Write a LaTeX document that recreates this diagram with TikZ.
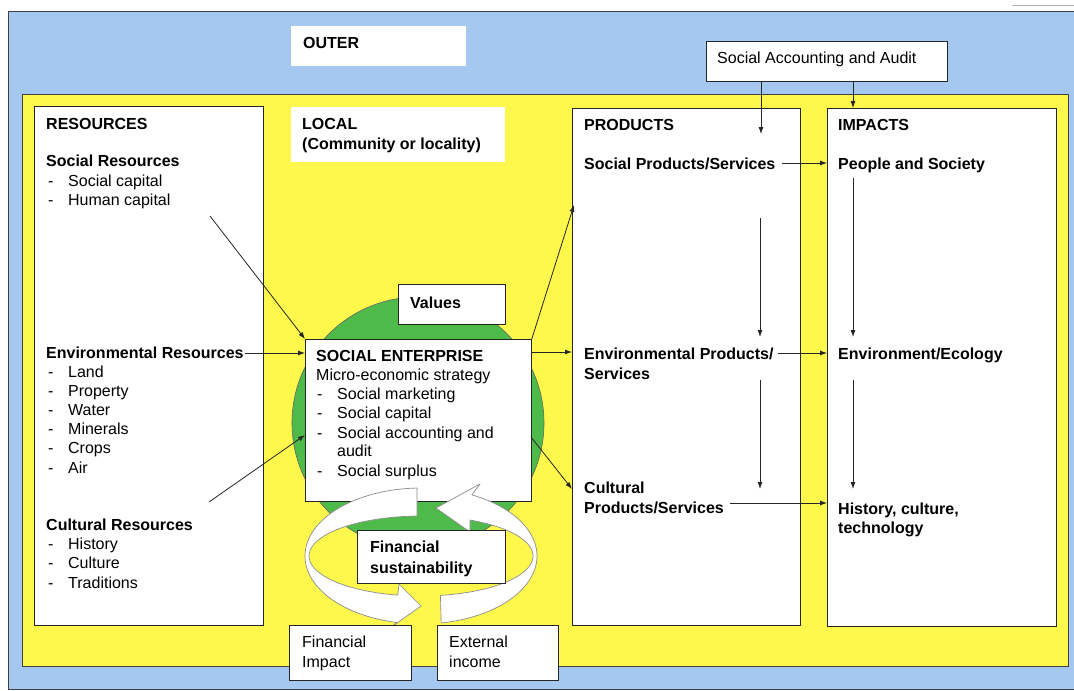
\documentclass[tikz,border=0pt]{standalone}
\usepackage{fontspec}
\setmainfont{Liberation Sans}
\usetikzlibrary{arrows.meta}
\definecolor{bgblue}{RGB}{164,200,240}
\definecolor{bgyellow}{RGB}{255,248,76}
\definecolor{segreen}{RGB}{78,186,74}
\begin{document}
\begin{tikzpicture}[x=1pt,y=-1pt,
  every node/.style={font=\fontsize{16}{19}\selectfont, inner sep=0pt},
  txt/.style={anchor=base west},
  btxt/.style={anchor=base west, font=\fontsize{16}{19}\selectfont\bfseries},
  panel/.style={draw=black!85, fill=white, line width=0.8pt, anchor=north west},
  plainpanel/.style={fill=white, anchor=north west},
  conn/.style={draw=black!85, line width=0.8pt, -{Latex[length=7pt,width=5pt]}},
  ribbon/.style={fill=white, draw=black!45, line width=0.7pt, line join=round}]
\useasboundingbox (0,0) rectangle (1074,691);
% backgrounds
\fill[white] (0,0) rectangle (1074,691);
\draw[black!30, line width=0.8pt] (1012,5) -- (1074,5);
\draw[fill=bgblue, draw=black!75, line width=0.8pt] (8,11) rectangle (1080,689);
\draw[fill=bgyellow, draw=black!75, line width=0.8pt] (22,94) rectangle (1068,666);
% panels
\node[plainpanel, minimum width=175pt, minimum height=40pt] (outerlbl) at (291,26) {};
\node[panel, minimum width=241pt, minimum height=40pt] (saa) at (706,41) {};
\node[panel, minimum width=229pt, minimum height=519pt] (res) at (34,106) {};
\node[plainpanel, minimum width=214pt, minimum height=55pt] (local) at (291,107) {};
\node[panel, minimum width=228pt, minimum height=517pt] (prod) at (572,108) {};
\node[panel, minimum width=229pt, minimum height=518pt] (imp) at (827,108) {};
% green circle
\node[circle, fill=segreen, draw=black!60, line width=0.6pt, minimum size=252pt] (circ) at (418,423) {};
\node[panel, minimum width=107pt, minimum height=40pt] (values) at (398,284) {};
\node[panel, minimum width=226pt, minimum height=162pt] (se) at (305,339) {};
% ribbon arrows
\draw[ribbon] plot[domain=92:258, samples=50] ({421+116*cos(\x)},{556-68*sin(\x)})
   -- (390,628) -- (421,606) -- (399,584)
   -- plot[domain=258:92, samples=50] ({421+112*cos(\x)},{556-40*sin(\x)}) -- cycle;
\draw[ribbon] plot[domain=-80:64, samples=50] ({421+116*cos(\x)},{556-68*sin(\x)})
   -- (480,484) -- (436,508) -- (470,532)
   -- plot[domain=64:-80, samples=50] ({421+112*cos(\x)},{556-40*sin(\x)}) -- cycle;
\node[panel, minimum width=148pt, minimum height=53pt] (finsus) at (357,530) {};
\node[panel, minimum width=122pt, minimum height=55pt] (finimp) at (289,625) {};
\node[panel, minimum width=121pt, minimum height=55pt] (extinc) at (437,625) {};
% texts
\node[btxt] (touter) at (303,48) {OUTER};
\node[btxt] (tlocal1) at (302,129) {LOCAL};
\node[btxt] (tlocal2) at (302,149) {(Community or locality)};
\node[txt] (tsaa) at (717,63) {Social Accounting and Audit};
\newcommand\itm[1]{\makebox[20pt][l]{-}#1}
\node[btxt] (tres) at (46,129) {RESOURCES};
\node[btxt] (socres) at (46,166) {Social Resources};
\node[txt] (r1) at (48,186) {\itm{Social capital}};
\node[txt] (r2) at (48,205) {\itm{Human capital}};
\node[btxt] (envres) at (46,358) {Environmental Resources};
\node[txt] (r3) at (48,377) {\itm{Land}};
\node[txt] (r4) at (48,396) {\itm{Property}};
\node[txt] (r5) at (48,415) {\itm{Water}};
\node[txt] (r6) at (48,434) {\itm{Minerals}};
\node[txt] (r7) at (48,453) {\itm{Crops}};
\node[txt] (r8) at (48,473) {\itm{Air}};
\node[btxt] (culres) at (46,530) {Cultural Resources};
\node[txt] (r9) at (48,549) {\itm{History}};
\node[txt] (r10) at (48,568) {\itm{Culture}};
\node[txt] (r11) at (48,588) {\itm{Traditions}};
\node[btxt] (tvalues) at (410,308) {Values};
\node[btxt] (tse) at (316,361) {SOCIAL ENTERPRISE};
\node[txt] (tmicro) at (316,380) {Micro-economic strategy};
\node[txt] (s1) at (317,399) {\itm{Social marketing}};
\node[txt] (s2) at (317,418) {\itm{Social capital}};
\node[txt] (s3) at (317,438) {\itm{Social accounting and}};
\node[txt] (s3b) at (337,456) {audit};
\node[txt] (s4) at (317,476) {\itm{Social surplus}};
\node[btxt] (tfs1) at (370,552) {Financial};
\node[btxt] (tfs2) at (370,573) {sustainability};
\node[txt] (tfi1) at (302,647) {Financial};
\node[txt] (tfi2) at (302,667) {Impact};
\node[txt] (tei1) at (449,647) {External};
\node[txt] (tei2) at (449,667) {income};
\node[btxt] (tprod) at (584,130) {PRODUCTS};
\node[btxt] (sps) at (584,169) {Social Products/Services};
\node[btxt] (eps) at (584,359) {Environmental Products/};
\node[btxt] (eps2) at (584,379) {Services};
\node[btxt] (cps) at (584,493) {Cultural};
\node[btxt] (cps2) at (584,513) {Products/Services};
\node[btxt] (timp) at (838,130) {IMPACTS};
\node[btxt] (peop) at (838,169) {People and Society};
\node[btxt] (envi) at (838,359) {Environment/Ecology};
\node[btxt] (hist) at (838,514) {History, culture,};
\node[btxt] (hist2) at (838,533) {technology};
% connector coordinates
\coordinate (a1) at (761,134);
\coordinate (a2) at (853,108);
\coordinate (y1) at (0,163);
\coordinate (y2) at (0,353);
\coordinate (y3) at (0,503);
\coordinate (pv1s) at (760,218); \coordinate (pv1e) at (760,337);
\coordinate (pv2s) at (760,380); \coordinate (pv2e) at (760,489);
\coordinate (iv1s) at (853,178); \coordinate (iv1e) at (853,337);
\coordinate (iv2s) at (853,380); \coordinate (iv2e) at (853,489);
\coordinate (hc) at (210,216);
\coordinate (cr) at (209,502);
\coordinate (seL) at (305,435);
\coordinate (seE) at (531,352);
\coordinate (seR) at (531,437);
\coordinate (p1) at (574,205);
\coordinate (p3) at (572,489);
% connectors
\draw[conn] (saa.south -| a1) -- (a1);
\draw[conn] (saa.south -| a2) -- (a2);
\draw[conn] ([xshift=6pt]sps.east |- y1) -- (imp.west |- y1);
\draw[conn] ([xshift=4pt]eps.east |- y2) -- (imp.west |- y2);
\draw[conn] ([xshift=6pt]cps2.east |- y3) -- (imp.west |- y3);
\draw[conn] (pv1s) -- (pv1e);
\draw[conn] (pv2s) -- (pv2e);
\draw[conn] (iv1s) -- (iv1e);
\draw[conn] (iv2s) -- (iv2e);
\draw[conn] (hc) -- (se.north west);
\draw[conn] ([xshift=1pt]envres.east |- y2) -- (se.west |- y2);
\draw[conn] (cr) -- (seL);
\draw[conn] (se.north east) -- (p1);
\draw[conn] (seE) -- (prod.west |- seE);
\draw[conn] (seR) -- (p3);
\end{tikzpicture}
\end{document}
